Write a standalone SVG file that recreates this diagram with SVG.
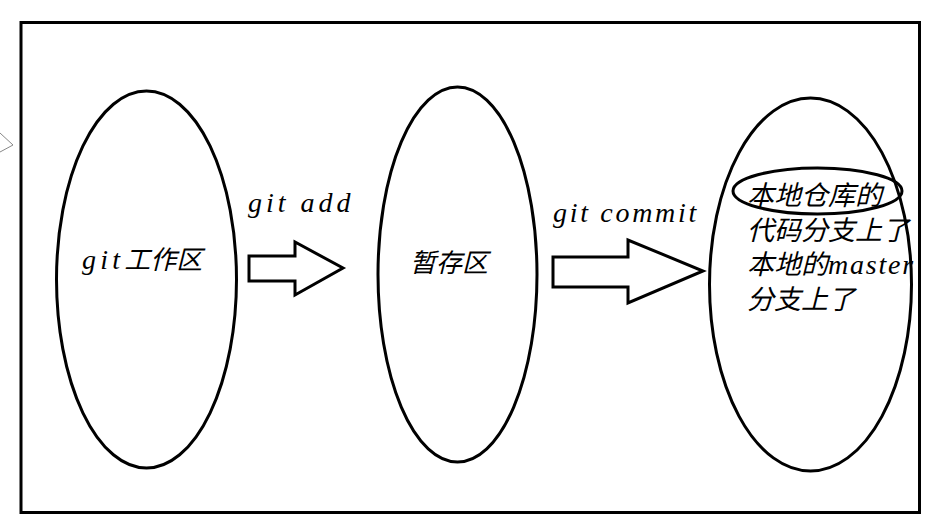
<svg xmlns="http://www.w3.org/2000/svg" width="950" height="521" viewBox="0 0 950 521">
<style>
.sh{fill:none;stroke:#000;stroke-width:3}
.ar{fill:#fff;stroke:#000;stroke-width:3;stroke-linejoin:miter}
.t{font-family:"Liberation Serif","Noto Sans CJK SC",serif;font-style:italic;fill:#000}
</style>
<rect width="950" height="521" fill="#fff"/>
<polyline points="0,133 13,145 0,152" fill="none" stroke="#888" stroke-width="1"/>
<rect id="frame" class="sh" x="21" y="22.5" width="898.5" height="490"/>
<g id="workspace">
<ellipse class="sh" cx="146.5" cy="279.5" rx="90" ry="188.5"/>
<text class="t" x="82" y="269" font-size="26"><tspan font-size="28" letter-spacing="4.2">git</tspan>工作区</text>
</g>
<g id="staging">
<ellipse class="sh" cx="457.5" cy="274.5" rx="79.5" ry="187.5"/>
<text class="t" x="410" y="272" font-size="26">暂存区</text>
</g>
<g id="repo">
<ellipse class="sh" cx="810.5" cy="284.5" rx="101" ry="186.5"/>
<ellipse class="sh" cx="817.5" cy="191" rx="84.5" ry="23"/>
<text class="t" font-size="27"><tspan x="747" y="205">本地仓库的</tspan><tspan x="747" y="240">代码分支上了</tspan><tspan x="747" y="274">本地的<tspan font-size="28" letter-spacing="1.8">master</tspan></tspan><tspan x="747" y="309">分支上了</tspan></text>
</g>
<g id="connectors">
<polygon class="ar" points="249,256 295,256 295,242 343,268 295,295 295,281 249,281"/>
<text class="t" x="248" y="212" font-size="28" letter-spacing="4">git add</text>
<polygon class="ar" points="553,257 628,257 628,240 703,271 628,303 628,287 553,287"/>
<text class="t" x="553" y="222" font-size="28" letter-spacing="2.7">git commit</text>
</g>
</svg>
